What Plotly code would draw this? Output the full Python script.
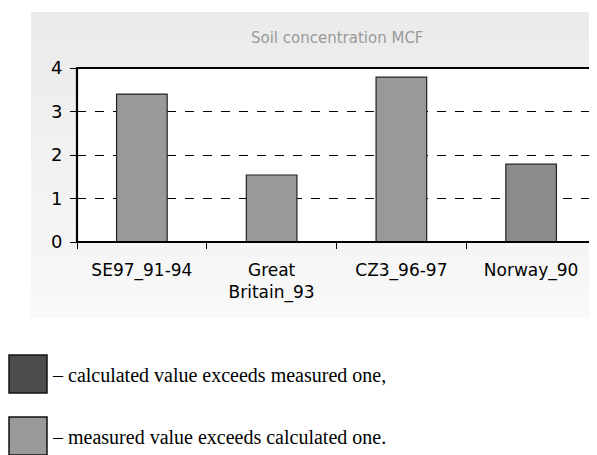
import plotly.graph_objects as go

categories = ["SE97_91-94", "Great<br>Britain_93", "CZ3_96-97", "Norway_90"]
values = [3.40, 1.54, 3.79, 1.79]
bar_colors = ["#999999", "#999999", "#999999", "#8c8c8c"]
y_ticks = [0, 1, 2, 3, 4]
legend_items = [
    ("#4d4d4d", "– calculated value exceeds measured one,"),
    ("#999999", "– measured value exceeds calculated one."),
]

# the page body adds an 8px margin, so the figure is laid out in screen pixels minus OFF
OFF = 8
W, H = 597 - OFF, 455 - OFF
L, R, T, B = 77, 596, 68, 242  # plot area in screen pixels


def px(x):
    return (x - L) / (R - L)


def py(y):
    return (B - y) / (B - T)


fig = go.Figure()
fig.add_trace(
    go.Bar(
        x=categories,
        y=values,
        marker=dict(color=bar_colors, line=dict(color="#222", width=1.2)),
        width=0.39,
    )
)

shapes = []
# grey panel with a soft vertical gradient
n = 24
top, bot = 12, 318
for i in range(n):
    y0 = top + (bot - top) * i / n
    y1 = top + (bot - top) * (i + 1) / n + 0.5
    g = int(235 + (249 - 235) * i / (n - 1))
    shapes.append(dict(
        type="rect", xref="paper", yref="paper", layer="below",
        x0=px(31), x1=px(600), y0=py(y1), y1=py(y0),
        fillcolor=f"rgb({g},{g},{g})", line=dict(width=0),
    ))
shapes.append(dict(
    type="rect", xref="paper", yref="paper", layer="below",
    x0=0, x1=1, y0=0, y1=1, fillcolor="white", line=dict(width=0),
))
shapes.append(dict(
    type="rect", xref="paper", yref="paper", layer="above",
    x0=0, x1=1, y0=0, y1=1, line=dict(color="black", width=2.2),
))

annotations = [dict(
    text="Soil concentration MCF", xref="paper", yref="paper",
    x=px(337), y=py(38), xanchor="center", yanchor="middle", showarrow=False,
    font=dict(family="DejaVu Sans", size=15, color="#9a9a9a"),
)]

for i, (col, txt) in enumerate(legend_items):
    yc = 374 + i * 62
    shapes.append(dict(
        type="rect", xref="paper", yref="paper",
        x0=px(9), x1=px(47), y0=py(yc + 19), y1=py(yc - 19),
        fillcolor=col, line=dict(color="#111", width=1.5),
    ))
    annotations.append(dict(
        text=txt, xref="paper", yref="paper", x=px(50), y=py(yc + 1),
        xanchor="left", yanchor="middle", showarrow=False,
        font=dict(family="Liberation Serif", size=20, color="black"),
    ))

fig.update_layout(
    width=W, height=H,
    margin=dict(l=L - OFF, r=597 - R, t=T - OFF, b=H - (B - OFF)),
    paper_bgcolor="white",
    plot_bgcolor="rgba(0,0,0,0)",
    showlegend=False,
    shapes=shapes,
    annotations=annotations,
)
fig.update_xaxes(
    showgrid=False, ticks="outside", tickson="boundaries", ticklen=6,
    tickcolor="black", tickwidth=1, ticklabelstandoff=16,
    tickfont=dict(family="DejaVu Sans", size=17, color="black"),
)
fig.update_yaxes(
    range=[0, 4], tickvals=y_ticks, ticks="outside", ticklen=6,
    tickcolor="black", showgrid=True, gridcolor="black", griddash="dash",
    gridwidth=1, zeroline=False, ticklabelstandoff=4,
    tickfont=dict(family="DejaVu Sans", size=18, color="black"),
)

fig.write_html("out.html")
